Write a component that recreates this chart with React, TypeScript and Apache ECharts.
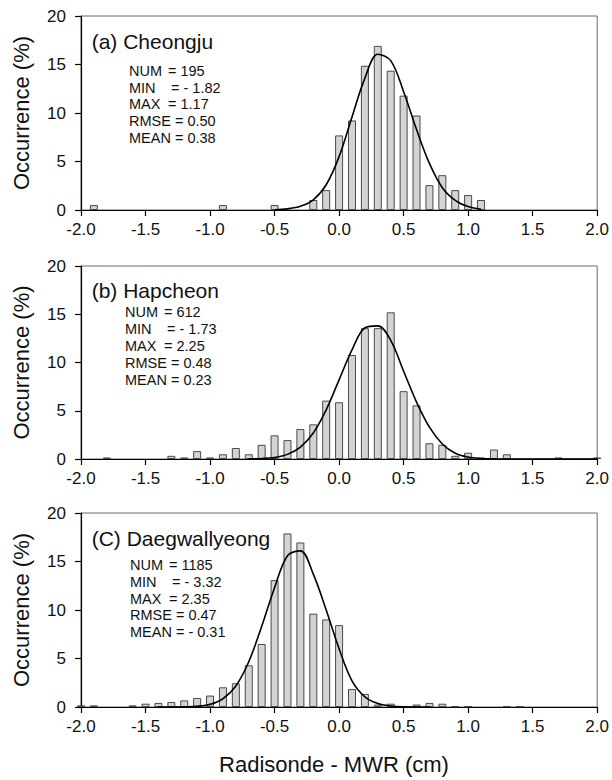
import React, { useEffect, useRef } from "react";
import * as echarts from "echarts";

// ---------- data ----------
const xTicks = [-2.0, -1.5, -1.0, -0.5, 0.0, 0.5, 1.0, 1.5, 2.0];
const yTicks = [0, 5, 10, 15, 20];

const panelLabels = ["(a) Cheongju", "(b) Hapcheon", "(C) Daegwallyeong"];

const statNames = ["NUM", "MIN", "MAX", "RMSE", "MEAN"];
const cheongjuStats = ["195", "- 1.82", "1.17", "0.50", "0.38"];
const hapcheonStats = ["612", "- 1.73", "2.25", "0.48", "0.23"];
const daegwallyeongStats = ["1185", "- 3.32", "2.35", "0.47", "- 0.31"];

// histogram bins (bin centre, cm) and occurrence (%)
const cheongjuBinX = [-1.9, -0.9, -0.5, -0.2, -0.1, 0.0, 0.1, 0.2, 0.3, 0.4, 0.5, 0.6, 0.7, 0.8, 0.9, 1.0, 1.1];
const cheongjuPct = [0.51, 0.51, 0.51, 1.03, 2.05, 7.69, 9.23, 14.87, 16.92, 14.36, 11.79, 9.74, 2.56, 3.59, 2.05, 1.54, 1.03];

const hapcheonBinX = [-1.8, -1.3, -1.2, -1.1, -1.0, -0.9, -0.8, -0.7, -0.6, -0.5, -0.4, -0.3, -0.2, -0.1, 0.0, 0.1, 0.2, 0.3, 0.4, 0.5, 0.6, 0.7, 0.8, 0.9, 1.0, 1.1, 1.2, 1.3, 1.7, 2.0];
const hapcheonPct = [0.16, 0.33, 0.16, 0.82, 0.16, 0.49, 1.14, 0.49, 1.47, 2.45, 1.96, 3.10, 3.59, 6.05, 5.88, 10.78, 13.56, 13.56, 15.20, 7.03, 5.56, 1.63, 1.47, 0.33, 0.65, 0.16, 0.98, 0.49, 0.16, 0.16];

const daegBinX = [-2.0, -1.9, -1.6, -1.5, -1.4, -1.3, -1.2, -1.1, -1.0, -0.9, -0.8, -0.7, -0.6, -0.5, -0.4, -0.3, -0.2, -0.1, 0.0, 0.1, 0.2, 0.3, 0.4, 0.6, 0.7, 0.8, 0.9, 1.0, 1.3, 1.4];
const daegPct = [0.17, 0.17, 0.17, 0.34, 0.42, 0.51, 0.68, 0.93, 1.18, 2.03, 2.45, 4.30, 6.50, 13.08, 17.89, 16.96, 9.62, 9.03, 8.44, 1.86, 1.35, 0.25, 0.34, 0.25, 0.42, 0.34, 0.08, 0.08, 0.08, 0.08];

// fitted normal curves
const cheongjuFitX = [-0.5, -0.4, -0.3, -0.2, -0.1, 0.0, 0.1, 0.2, 0.3, 0.4, 0.5, 0.6, 0.7, 0.8, 0.9, 1.0, 1.1];
const cheongjuFitY = [0.03, 0.12, 0.38, 1.05, 2.6, 5.5, 9.6, 13.6, 16.05, 15.4, 12.2, 8.3, 4.8, 2.3, 1.0, 0.35, 0.08];

const hapcheonFitX = [-0.7, -0.6, -0.5, -0.4, -0.3, -0.2, -0.1, 0.0, 0.1, 0.2, 0.3, 0.4, 0.5, 0.6, 0.7, 0.8, 0.9, 1.0, 1.1, 1.2, 1.4, 1.7, 2.0];
const hapcheonFitY = [0.01, 0.05, 0.16, 0.48, 1.23, 2.7, 5.1, 8.2, 11.3, 13.6, 13.8, 12.3, 9.1, 5.9, 3.3, 1.56, 0.6, 0.2, 0.05, 0.01, 0, 0, 0];

const daegFitX = [-1.4, -1.2, -1.1, -1.0, -0.9, -0.8, -0.7, -0.6, -0.5, -0.4, -0.3, -0.2, -0.1, 0.0, 0.1, 0.2, 0.3, 0.4, 0.5, 0.7];
const daegFitY = [0, 0.02, 0.07, 0.27, 0.85, 2.17, 4.67, 8.3, 12.3, 15.6, 16.1, 13.7, 10.0, 6.0, 2.7, 1.05, 0.35, 0.1, 0.02, 0];

const yTitle = "Occurrence (%)";
const xTitle = "Radisonde - MWR (cm)";

// ---------- layout ----------
const FONT = "'Liberation Sans', Arial, Helvetica, sans-serif";
const GRID_LEFT = 81;
const GRID_WIDTH = 517;
const gridTops = [16, 266, 513];
const gridHeights = [194, 193, 194];
const labelCapCenters = [41.3, 290, 538.8];
const statsLeft = [129, 125, 130];
const statsFirstCenter = [71, 312, 565.2];
const statsLineGap = [16.7, 17, 16.7];
const eqOffsets = [39, 42, 39];

const pair = (xs: number[], ys: number[]) => xs.map((x, i) => [x, ys[i]]);

export default function App() {
  const ref = useRef<HTMLDivElement>(null);

  useEffect(() => {
    if (!ref.current) return;
    const chart = echarts.init(ref.current, undefined, { renderer: "svg" });

    const bins = [
      pair(cheongjuBinX, cheongjuPct),
      pair(hapcheonBinX, hapcheonPct),
      pair(daegBinX, daegPct),
    ];
    const fits = [
      pair(cheongjuFitX, cheongjuFitY),
      pair(hapcheonFitX, hapcheonFitY),
      pair(daegFitX, daegFitY),
    ];
    const stats = [cheongjuStats, hapcheonStats, daegwallyeongStats];

    const grids = gridTops.map((top, i) => ({
      left: GRID_LEFT,
      width: GRID_WIDTH,
      top,
      height: gridHeights[i],
      show: true,
      borderColor: "#6a6a6a",
      borderWidth: 1,
      backgroundColor: "transparent",
    }));

    const xAxes = gridTops.map((_, i) => ({
      type: "value",
      gridIndex: i,
      min: xTicks[0],
      max: xTicks[xTicks.length - 1],
      interval: 0.5,
      axisLine: { show: true, onZero: false, lineStyle: { color: "#000", width: 1.2 } },
      axisTick: { show: true, inside: false, length: 6, lineStyle: { color: "#000", width: 1.2 } },
      axisLabel: {
        fontSize: 17,
        color: "#111",
        fontFamily: FONT,
        margin: 11,
        showMinLabel: true,
        showMaxLabel: true,
        formatter: (v: number) => v.toFixed(1),
      },
      splitLine: { show: false },
    }));

    const yAxes = gridTops.map((_, i) => ({
      type: "value",
      gridIndex: i,
      min: yTicks[0],
      max: yTicks[yTicks.length - 1],
      interval: 5,
      axisLine: { show: true, onZero: false, lineStyle: { color: "#000", width: 1.2 } },
      axisTick: { show: true, inside: false, length: 6, lineStyle: { color: "#000", width: 1.2 } },
      axisLabel: { fontSize: 17, color: "#111", fontFamily: FONT, margin: 15 },
      splitLine: { show: false },
    }));

    const series: any[] = [];
    for (let i = 0; i < 3; i++) {
      series.push({
        type: "bar",
        xAxisIndex: i,
        yAxisIndex: i,
        data: bins[i],
        barWidth: 8,
        clip: true,
        itemStyle: { color: "#d3d3d3", borderColor: "#4a4a4a", borderWidth: 1 },
        z: 2,
      });
      series.push({
        type: "line",
        xAxisIndex: i,
        yAxisIndex: i,
        data: fits[i],
        smooth: 0.35,
        showSymbol: false,
        symbol: "none",
        clip: true,
        lineStyle: { color: "#000", width: 1.6 },
        z: 3,
      });
    }

    const graphic: any[] = [];
    for (let i = 0; i < 3; i++) {
      graphic.push({
        type: "text",
        x: 91.7,
        y: labelCapCenters[i],
        style: { text: panelLabels[i], fontSize: 21, fontFamily: FONT, fill: "#111", align: "left", verticalAlign: "middle" },
      });
      statNames.forEach((name, k) => {
        const y = statsFirstCenter[i] + k * statsLineGap[i];
        if (k < 3) {
          graphic.push({
            type: "text",
            x: statsLeft[i],
            y,
            style: { text: name, fontSize: 14.5, fontFamily: FONT, fill: "#111", align: "left", verticalAlign: "middle" },
          });
          graphic.push({
            type: "text",
            x: statsLeft[i] + eqOffsets[k],
            y,
            style: { text: "= " + stats[i][k], fontSize: 14.5, fontFamily: FONT, fill: "#111", align: "left", verticalAlign: "middle" },
          });
        } else {
          graphic.push({
            type: "text",
            x: statsLeft[i],
            y,
            style: { text: name + " = " + stats[i][k], fontSize: 14.5, fontFamily: FONT, fill: "#111", align: "left", verticalAlign: "middle" },
          });
        }
      });
      graphic.push({
        type: "text",
        x: 21,
        y: gridTops[i] + gridHeights[i] / 2,
        rotation: Math.PI / 2,
        style: { text: yTitle, fontSize: 22, fontFamily: FONT, fill: "#111", align: "center", verticalAlign: "middle" },
      });
    }
    graphic.push({
      type: "text",
      x: 334,
      y: 764,
      style: { text: xTitle, fontSize: 22, fontFamily: FONT, fill: "#111", align: "center", verticalAlign: "middle" },
    });

    chart.setOption({
      animation: false,
      backgroundColor: "#fff",
      grid: grids,
      xAxis: xAxes,
      yAxis: yAxes,
      series,
      graphic,
    });

    return () => chart.dispose();
  }, []);

  return (
    <div
      ref={ref}
      style={{ position: "absolute", left: 0, top: 0, width: 612, height: 780 }}
    />
  );
}
